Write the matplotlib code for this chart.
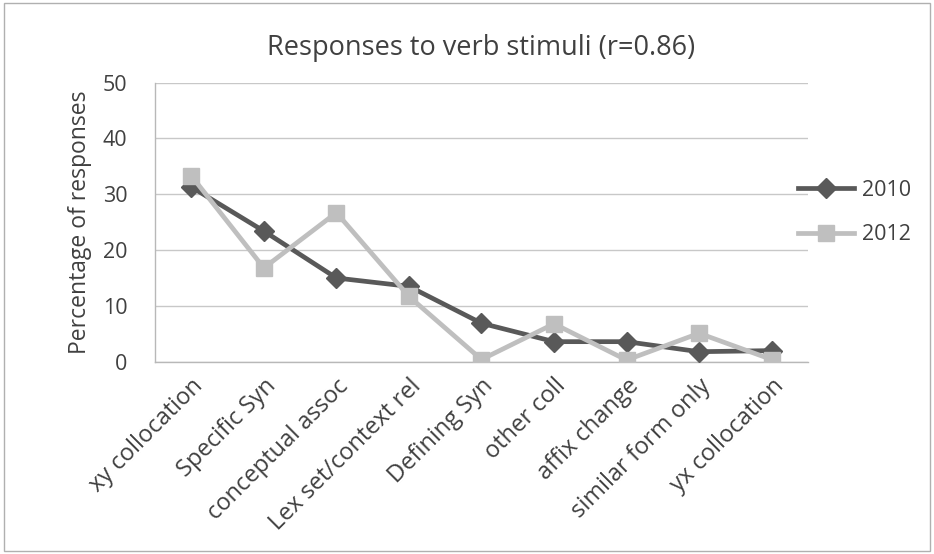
import matplotlib
matplotlib.use("Agg")
import matplotlib.pyplot as plt
from matplotlib.patches import Rectangle

categories = ["xy collocation", "Specific Syn", "conceptual assoc", "Lex set/context rel",
              "Defining Syn", "other coll", "affix change", "similar form only", "yx collocation"]
values_2010 = [31.3, 23.4, 15.0, 13.5, 6.9, 3.6, 3.6, 1.8, 2.0]
values_2012 = [33.3, 16.8, 26.7, 11.7, 0.4, 6.8, 0.3, 5.1, 0.4]
y_ticks = [0, 10, 20, 30, 40, 50]

plt.rcParams["font.family"] = ["Open Sans", "DejaVu Sans"]
text_color = "#404040"

fig = plt.figure(figsize=(9.34, 5.54), dpi=100)
fig.patches.append(Rectangle((0.004, 0.006), 0.992, 0.988, transform=fig.transFigure,
                             fill=False, edgecolor="#b0b0b0", linewidth=1.0))

ax = fig.add_axes([0.166, 0.347, 0.699, 0.504])
x = list(range(len(categories)))

ax.plot(x, values_2010, color="#595959", linewidth=3.4, marker="D", markersize=10,
        label="2010", zorder=3)
ax.plot(x, values_2012, color="#bfbfbf", linewidth=3.4, marker="s", markersize=11,
        label="2012", zorder=4)

ax.set_xlim(-0.5, len(categories) - 0.5)
ax.set_ylim(0, 50)
ax.set_yticks(y_ticks)
ax.set_xticks(x)
ax.set_xticklabels(categories, rotation=45, ha="right", rotation_mode="anchor",
                   fontsize=17, color=text_color)
ax.tick_params(axis="y", labelsize=15.5, labelcolor=text_color, length=0, pad=20)
ax.tick_params(axis="x", length=0, pad=9)
ax.yaxis.grid(True, color="#c8c8c8", linewidth=1.0)
ax.set_axisbelow(True)
for side in ["top", "right"]:
    ax.spines[side].set_visible(False)
for side in ["bottom", "left"]:
    ax.spines[side].set_color("#b8b8b8")
    ax.spines[side].set_linewidth(1.0)

ax.set_ylabel("Percentage of responses", fontsize=16.5, color=text_color, labelpad=8)
ax.set_title("Responses to verb stimuli (r=0.86)", fontsize=19.5, color=text_color, pad=20)

leg = ax.legend(loc="center left", bbox_to_anchor=(0.955, 0.535), frameon=False,
                fontsize=15.5, handlelength=2.6, labelspacing=1.1, handletextpad=0.4)
for t in leg.get_texts():
    t.set_color(text_color)

fig.savefig("out.png", dpi=100, facecolor="white")
